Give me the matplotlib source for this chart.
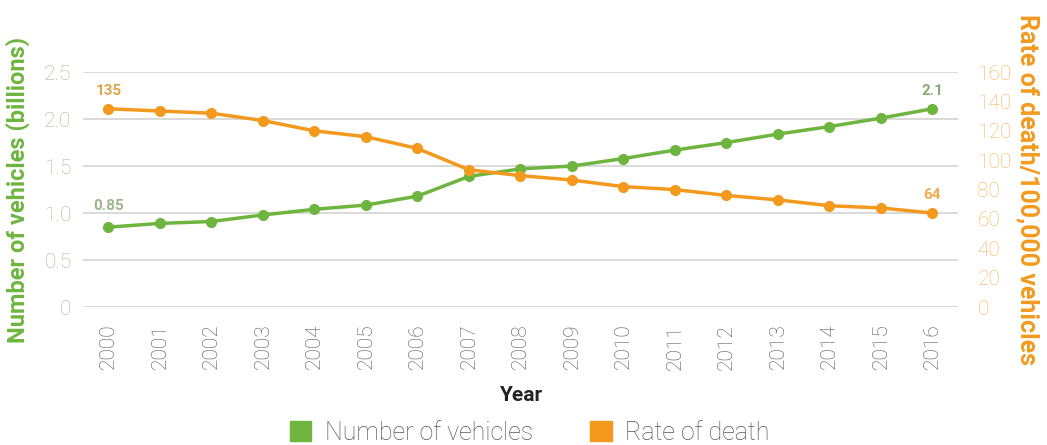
import matplotlib
matplotlib.use("Agg")
import matplotlib.pyplot as plt
from matplotlib.patches import Patch

years = ["2000", "2001", "2002", "2003", "2004", "2005", "2006", "2007", "2008",
         "2009", "2010", "2011", "2012", "2013", "2014", "2015", "2016"]
vehicles = [0.85, 0.89, 0.91, 0.98, 1.04, 1.085, 1.18, 1.39, 1.47, 1.50, 1.58,
            1.67, 1.75, 1.84, 1.92, 2.01, 2.11]
death_rate = [135, 133.5, 132, 127, 120, 116, 108, 93.5, 89.5, 86.5, 82, 80,
              76, 73, 69, 67.5, 64]
left_ticks = [0, 0.5, 1.0, 1.5, 2.0, 2.5]
left_tick_labels = ["0", "0.5", "1.0", "1.5", "2.0", "2.5"]
right_ticks = [0, 20, 40, 60, 80, 100, 120, 140, 160]

GREEN = "#6eb53f"
ORANGE = "#f39a1e"
plt.rcParams['font.family'] = ['Roboto', 'DejaVu Sans']

fig = plt.figure(figsize=(10.47, 4.45), dpi=100)
ax = fig.add_axes([0.079, 0.31, 0.836, 0.528])
ax2 = ax.twinx()

x = list(range(len(years)))
ax.plot(x, vehicles, color=GREEN, lw=2.5, marker='o', ms=7, zorder=3)
ax2.plot(x, death_rate, color=ORANGE, lw=2.5, marker='o', ms=7, zorder=3)

ax.set_xlim(-0.5, len(years) - 0.5)
ax.set_ylim(0, 2.5)
ax2.set_ylim(0, 160)
ax.set_yticks(left_ticks)
ax.set_yticklabels(left_tick_labels)
ax2.set_yticks(right_ticks)
ax.set_xticks(x)
ax.set_xticklabels(years, rotation=90, fontsize=15, color="#555555", fontweight='light')

ax.grid(axis='y', color="#d3d3d3", lw=1.2)
ax.set_axisbelow(True)
for a in (ax, ax2):
    for s in a.spines.values():
        s.set_visible(False)
ax.tick_params(axis='y', length=0, labelsize=15, labelcolor="#a8b898", pad=8)
ax2.tick_params(axis='y', length=0, labelsize=15, labelcolor="#f2b45a", pad=14)
ax.tick_params(axis='x', length=0, pad=12)
for lbl in ax.get_yticklabels() + ax2.get_yticklabels():
    lbl.set_fontweight('light')

ax.set_ylabel("Number of vehicles (billions)", color=GREEN, fontsize=17,
              fontweight='bold', labelpad=10)
ax2.set_ylabel("Rate of death/100,000 vehicles", color=ORANGE, fontsize=18,
               fontweight='bold', rotation=270, labelpad=20)
ax.set_xlabel("Year", fontsize=15, fontweight='bold', color="#222222", labelpad=12)

ax.annotate(f"{vehicles[0]:.2f}", (0, vehicles[0]), xytext=(0, 12),
            textcoords='offset points', ha='center', fontsize=11,
            fontweight='bold', color="#9db58a")
ax.annotate(f"{vehicles[-1]:.1f}", (x[-1], vehicles[-1]), xytext=(0, 10),
            textcoords='offset points', ha='center', fontsize=11,
            fontweight='bold', color="#8aa878")
ax2.annotate(f"{death_rate[0]:.0f}", (0, death_rate[0]), xytext=(0, 10),
             textcoords='offset points', ha='center', fontsize=11,
             fontweight='bold', color="#dca64c")
ax2.annotate(f"{death_rate[-1]:.0f}", (x[-1], death_rate[-1]), xytext=(0, 10),
             textcoords='offset points', ha='center', fontsize=11,
             fontweight='bold', color="#f0aa50")

handles = [Patch(color=GREEN, label="Number of vehicles"),
           Patch(color=ORANGE, label="Rate of death")]
leg = fig.legend(handles=handles, loc='lower center', bbox_to_anchor=(0.506, -0.05),
                 ncol=2, frameon=False, fontsize=18, handlelength=0.85,
                 handleheight=0.85, columnspacing=2.3, handletextpad=0.55)
for t in leg.get_texts():
    t.set_color("#555555")
    t.set_fontweight('light')

fig.savefig("out.png", dpi=100)
